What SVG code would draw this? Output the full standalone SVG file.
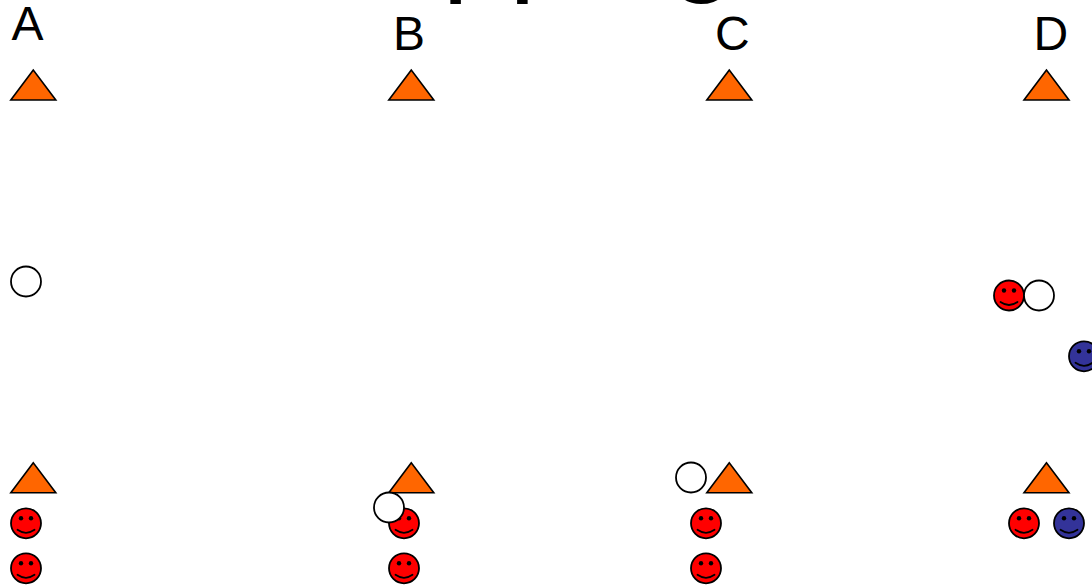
<svg xmlns="http://www.w3.org/2000/svg" width="1092" height="586" viewBox="0 0 1092 586">
<style>
text{font-family:"Liberation Sans",Arial,sans-serif;fill:#000}
.l{font-size:48px}
.t{font-size:120px}
.tri{fill:#ff6600;stroke:#000;stroke-width:1.6;stroke-linejoin:miter}
.b{stroke:#000;stroke-width:1.8}
.w{fill:#fff;stroke:#000;stroke-width:1.8}
.red{fill:#ff0000}
.blue{fill:#333399}
.s{fill:none;stroke:#000;stroke-width:1.8;stroke-linecap:round}
.e{fill:#000}
</style>
<defs>
<polygon id="tr" class="tri" points="0,-15 -22.500,15 22.500,15"/>
<g id="eyes"><circle class="e" cx="-5" cy="-5" r="2.2"/><circle class="e" cx="5" cy="-5" r="2.2"/></g>
<path id="sm" class="s" d="M-8.500,6.500Q0,12.500 8.500,6.500"/>
<g id="fr"><circle class="b red" r="15"/><use href="#eyes"/><use href="#sm"/></g>
<g id="fb"><circle class="b blue" r="15"/><use href="#eyes"/><use href="#sm"/></g>
</defs>
<text id="title" class="t" x="275.500" y="-21.500">Mapping</text>
<g id="col-a">
<text class="l" x="11.500" y="40">A</text>
<use href="#tr" x="33.300" y="85"/>
<use href="#tr" x="33.300" y="477.800"/>
<circle class="w" cx="26" cy="281.500" r="15"/>
<use href="#fr" x="26" y="523.300"/>
<use href="#fr" x="26" y="568.300"/>
</g>
<g id="col-b">
<text class="l" x="393" y="50">B</text>
<use href="#tr" x="411.300" y="85"/>
<use href="#tr" x="411.300" y="477.800"/>
<use href="#fr" x="404" y="523.300"/>
<use href="#fr" x="404" y="568.300"/>
<circle class="w" cx="389" cy="507.500" r="15"/>
</g>
<g id="col-c">
<text class="l" x="715" y="50">C</text>
<use href="#tr" x="729.300" y="85"/>
<use href="#tr" x="729.300" y="477.800"/>
<circle class="w" cx="691" cy="477.500" r="15"/>
<use href="#fr" x="706" y="523.300"/>
<use href="#fr" x="706" y="568.300"/>
</g>
<g id="col-d">
<text class="l" x="1033.500" y="50">D</text>
<use href="#tr" x="1046.500" y="85"/>
<use href="#tr" x="1046.500" y="477.800"/>
<use href="#fr" x="1009" y="295.500"/>
<circle class="w" cx="1039" cy="295.500" r="15"/>
<use href="#fb" x="1084" y="356.300"/>
<use href="#fr" x="1024" y="523.300"/>
<use href="#fb" x="1069" y="523.300"/>
</g>
<g id="connectors"></g>
</svg>
